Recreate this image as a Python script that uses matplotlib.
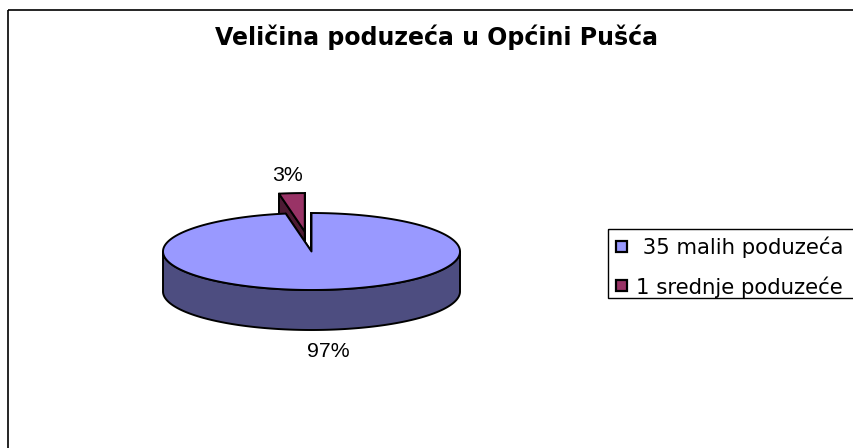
import numpy as np
import matplotlib.pyplot as plt
from matplotlib.patches import Polygon, Rectangle

# podaci
title = 'Veličina poduzeća u Općini Pušća'
labels = [' 35 malih poduzeća', '1 srednje poduzeće']
values = [35, 1]
top_colors = ['#9999ff', '#993366']
side_colors = ['#4d4d80', '#4d1a33']
explode = [0.0, 0.52]

# geometrija 3D kolača (pikseli)
cx, cy = 311.5, 251.5
rx, ry = 148.5, 38.5
depth = 40
lw = 1.4

fig = plt.figure(figsize=(8.54, 4.48), dpi=100)
ax = fig.add_axes([0, 0, 1, 1])
ax.set_xlim(0, 854)
ax.set_ylim(448, 0)
ax.axis('off')


def rim(theta, ox, oy, dz=0.0):
    theta = np.atleast_1d(theta)
    return np.column_stack([ox + rx * np.cos(theta), oy - ry * np.sin(theta) + dz])


def front_runs(theta):
    # dijelovi luka koji gledaju prema promatraču
    mask = np.sin(theta) < 0
    runs, cur = [], []
    for t, m in zip(theta, mask):
        if m:
            cur.append(t)
        elif cur:
            runs.append(np.array(cur))
            cur = []
    if cur:
        runs.append(np.array(cur))
    return runs


fracs = np.array(values) / sum(values)
# Excel: u smjeru kazaljke od 12 sati
ends = np.pi / 2 - 2 * np.pi * np.cumsum(fracs)
starts = ends + 2 * np.pi * fracs
mids = (starts + ends) / 2

order = np.argsort(-np.sin(mids))  # prvo stražnji dijelovi
for i in order:
    ox = cx + explode[i] * rx * np.cos(mids[i])
    oy = cy - explode[i] * ry * np.sin(mids[i])
    theta = np.linspace(ends[i], starts[i], 400)

    # rezne stranice
    for a in (ends[i], starts[i]):
        p = rim(a, ox, oy)[0]
        face = [(ox, oy), tuple(p), (p[0], p[1] + depth), (ox, oy + depth)]
        ax.add_patch(Polygon(face, closed=True, fc=side_colors[i], ec='black',
                             lw=lw, joinstyle='round'))

    # vanjski zid
    for run in front_runs(theta):
        wall = np.vstack([rim(run, ox, oy), rim(run[::-1], ox, oy, depth)])
        ax.add_patch(Polygon(wall, closed=True, fc=side_colors[i], ec='black',
                             lw=lw, joinstyle='round'))

    # gornja ploha
    top = np.vstack([[ox, oy], rim(theta, ox, oy)])
    ax.add_patch(Polygon(top, closed=True, fc=top_colors[i], ec='black',
                         lw=lw, joinstyle='round'))

    # postotak
    s = np.sin(mids[i])
    lx = ox + rx * np.cos(mids[i]) * 1.3
    ly = oy - ry * s + (depth if s < 0 else 0) + (20 if s < 0 else -20)
    ax.text(lx, ly + 7.5, f'{round(fracs[i] * 100)}%', ha='center', va='baseline',
            fontsize=15.3, family='Liberation Sans')

# naslov
ax.text(436.5, 45.5, title, ha='center', va='baseline', fontsize=17,
        fontweight='bold', family='DejaVu Sans')

# okvir grafikona
ax.add_patch(Rectangle((8.5, 10.5), 900, 500, fill=False, ec='black', lw=1.2))

# legenda
ax.add_patch(Rectangle((608.5, 229.5), 300, 68.5, fill=False, ec='black', lw=1.0))
rows = [254.5, 293.5]
for lab, col, base in zip(labels, top_colors, rows):
    ax.add_patch(Rectangle((616.5, base - 13), 11, 11, fc=col, ec='black', lw=1.6))
    ax.text(636, base, lab, ha='left', va='baseline', fontsize=15.3,
            family='DejaVu Sans')

fig.savefig('out.png', dpi=100)
